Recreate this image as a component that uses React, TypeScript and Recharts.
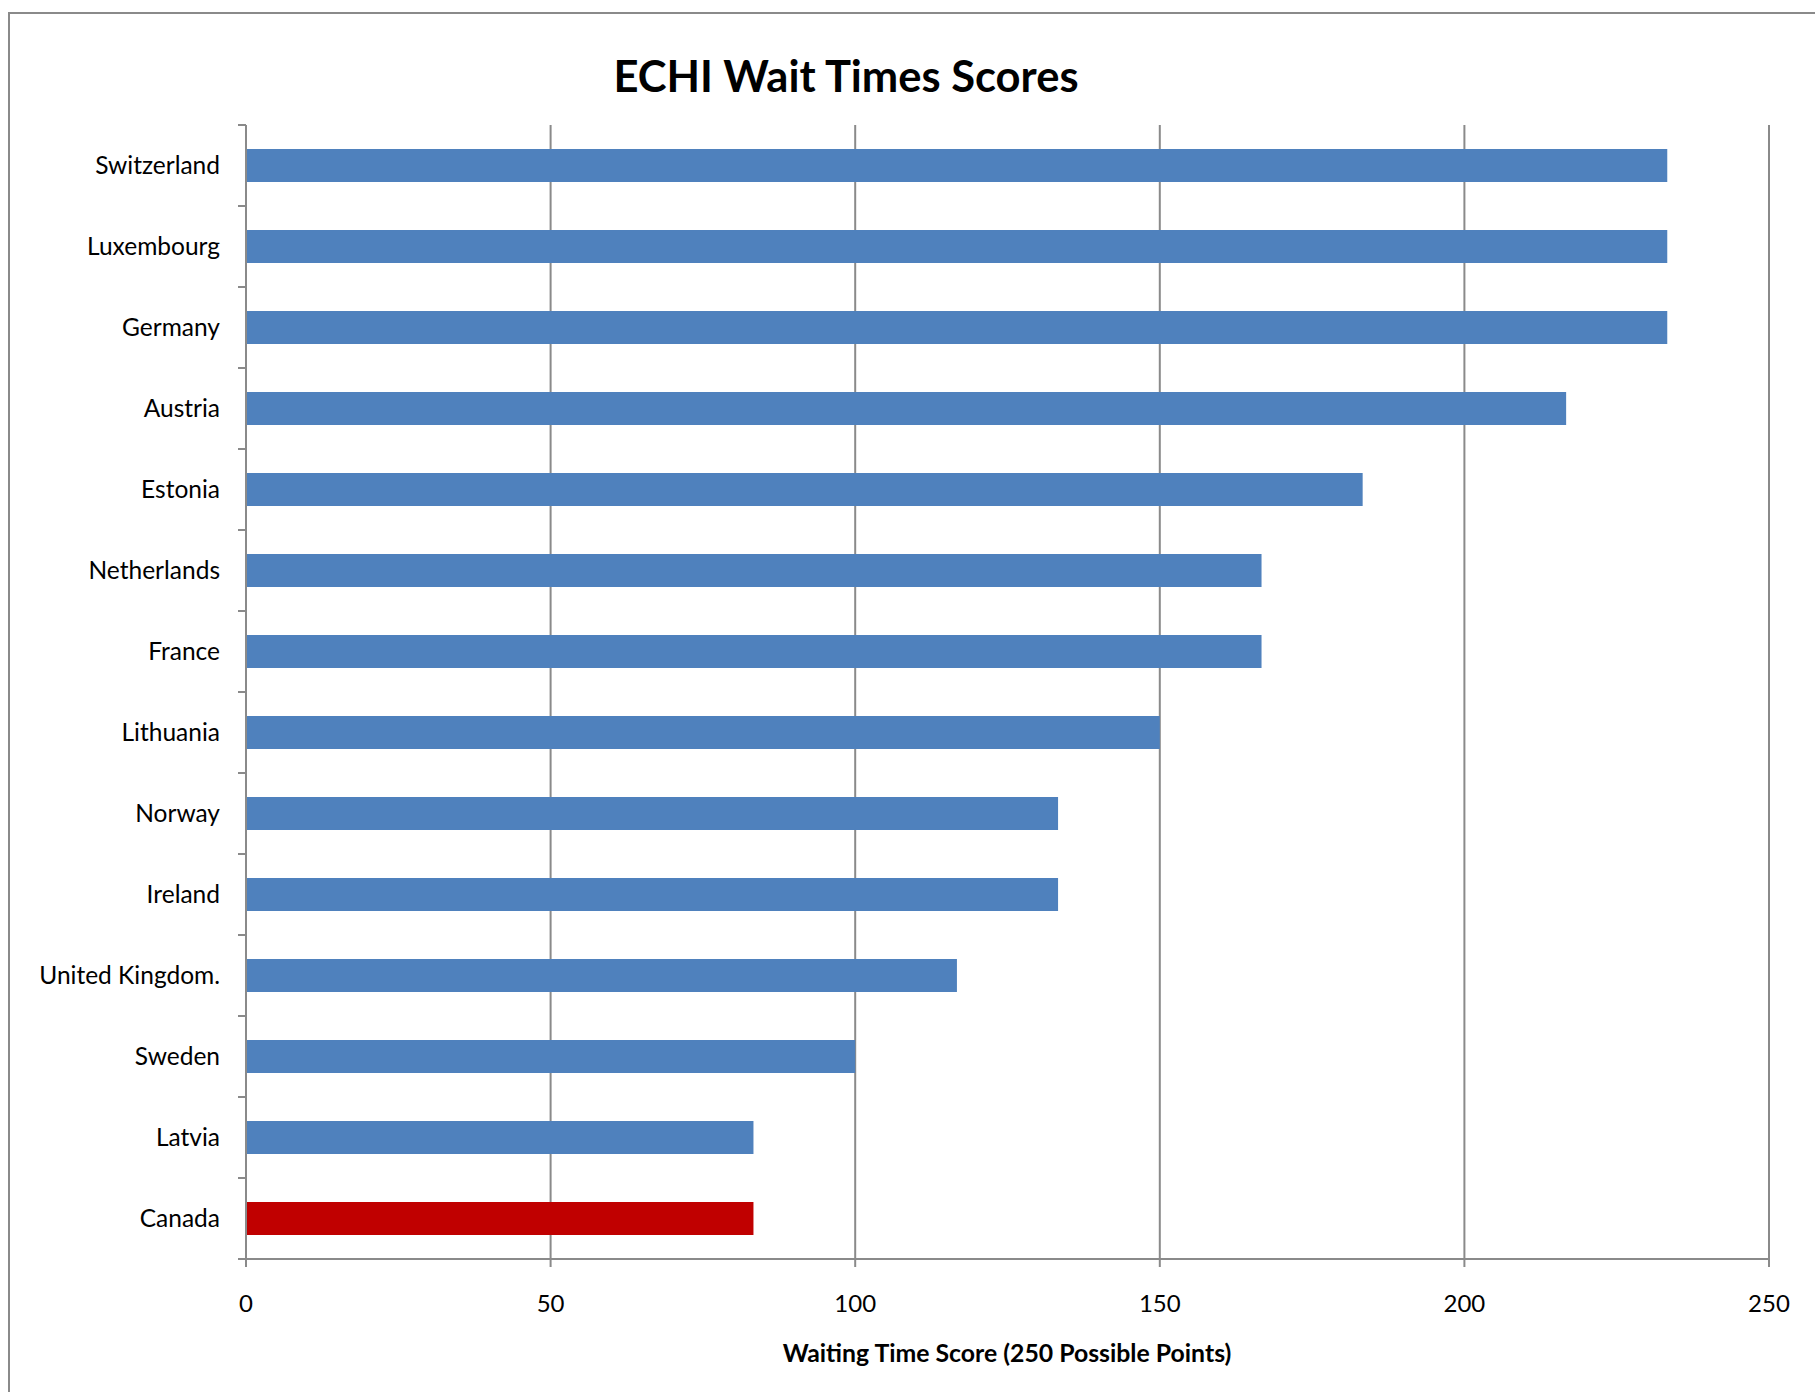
import { BarChart, Bar, XAxis, YAxis, CartesianGrid, Cell } from "recharts";

const countries = [
  "Switzerland",
  "Luxembourg",
  "Germany",
  "Austria",
  "Estonia",
  "Netherlands",
  "France",
  "Lithuania",
  "Norway",
  "Ireland",
  "United Kingdom.",
  "Sweden",
  "Latvia",
  "Canada",
];

const scores = [233.3, 233.3, 233.3, 216.7, 183.3, 166.7, 166.7, 150, 133.3, 133.3, 116.7, 100, 83.3, 83.3];

const xTicks = [0, 50, 100, 150, 200, 250];

const HIGHLIGHT = "Canada";
const BLUE = "#4f81bd";
const RED = "#c00000";
const GRID = "#8a8a8a";
const FONT = "Lato, 'Open Sans', sans-serif";

const TICK_SIZE = 8;
const TICK_MARGIN = 18;

const data = countries.map((name, i) => ({ name, score: scores[i] }));

function CountryTick(props: any) {
  const { x, y, payload, index } = props;
  const half = payload?.offset ?? 0;
  const axisX = x + TICK_MARGIN + TICK_SIZE;
  return (
    <g>
      {index === 0 && (
        <line x1={axisX - TICK_SIZE} x2={axisX} y1={y - half} y2={y - half} stroke={GRID} strokeWidth={2} />
      )}
      <line x1={axisX - TICK_SIZE} x2={axisX} y1={y + half} y2={y + half} stroke={GRID} strokeWidth={2} />
      <text x={x} y={y} dy={8} textAnchor="end" fontSize={24.5} fontFamily={FONT} fill="#000">
        {payload.value}
      </text>
    </g>
  );
}

export default function App() {
  return (
    <div
      style={{
        position: "absolute",
        left: 0,
        top: 0,
        width: 1815,
        height: 1392,
        overflow: "hidden",
        background: "#fff",
        fontFamily: FONT,
      }}
    >
      <div
        style={{
          position: "absolute",
          left: 8,
          top: 12,
          width: 2000,
          height: 2000,
          border: "2px solid #8a8a8a",
        }}
      />
      <div
        style={{
          position: "absolute",
          left: 446,
          width: 800,
          top: 49,
          lineHeight: "52px",
          textAlign: "center",
          fontSize: 43.5,
          fontWeight: 700,
          color: "#000",
        }}
      >
        ECHI Wait Times Scores
      </div>
      <div style={{ position: "absolute", left: 0, top: 0 }}>
        <BarChart
          width={1815}
          height={1392}
          data={data}
          layout="vertical"
          margin={{ top: 125, right: 46, bottom: 73, left: 0 }}
          barSize={33}
        >
          <CartesianGrid horizontal={false} stroke={GRID} strokeWidth={2} />
          <XAxis
            type="number"
            dataKey="score"
            domain={[0, 250]}
            ticks={xTicks}
            interval={0}
            height={60}
            tickSize={TICK_SIZE}
            tickMargin={28}
            axisLine={{ stroke: GRID, strokeWidth: 2 }}
            tickLine={{ stroke: GRID, strokeWidth: 2 }}
            tick={{ fontSize: 24, fontFamily: FONT, fill: "#000" }}
          />
          <YAxis
            type="category"
            dataKey="name"
            width={246}
            interval={0}
            tickSize={TICK_SIZE}
            tickMargin={TICK_MARGIN}
            axisLine={{ stroke: GRID, strokeWidth: 2 }}
            tickLine={false}
            tick={<CountryTick />}
          />
          <Bar dataKey="score" isAnimationActive={false}>
            {data.map((d) => (
              <Cell key={d.name} fill={d.name === HIGHLIGHT ? RED : BLUE} />
            ))}
          </Bar>
        </BarChart>
      </div>
      <div
        style={{
          position: "absolute",
          left: 607,
          width: 800,
          top: 1338,
          lineHeight: "30px",
          textAlign: "center",
          fontSize: 24.8,
          fontWeight: 700,
          color: "#000",
        }}
      >
        Waiting Time Score (250 Possible Points)
      </div>
    </div>
  );
}
